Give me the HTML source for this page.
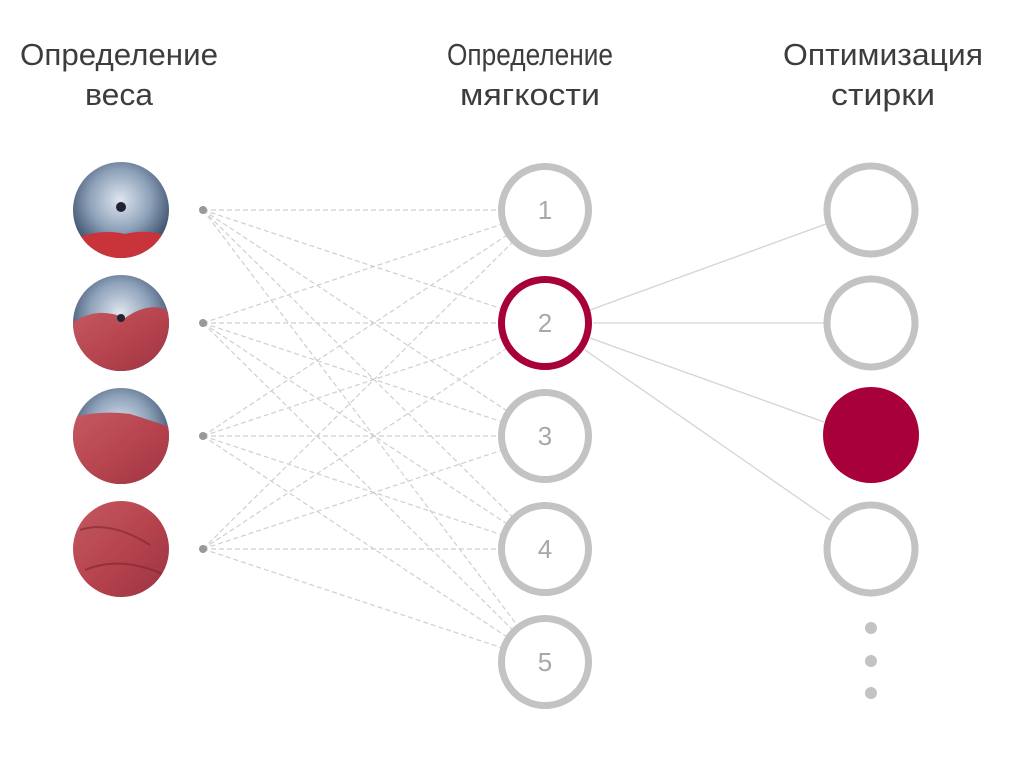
<!DOCTYPE html>
<html><head><meta charset="utf-8"><style>
html,body{margin:0;padding:0;background:#fff;width:1024px;height:770px;overflow:hidden}
svg{display:block}
text{font-family:"Liberation Sans",sans-serif}
</style></head><body>
<svg width="1024" height="770" viewBox="0 0 1024 770" xmlns="http://www.w3.org/2000/svg">
<defs>
<radialGradient id="metal" cx="50%" cy="40%" r="60%">
<stop offset="0" stop-color="#dfe6ee"/><stop offset="0.5" stop-color="#8fa3bb"/><stop offset="1" stop-color="#2c3e5c"/>
</radialGradient>
<linearGradient id="cloth" x1="0" y1="0" x2="1" y2="1">
<stop offset="0" stop-color="#c45a62"/><stop offset="0.5" stop-color="#b7444f"/><stop offset="1" stop-color="#9a3340"/>
</linearGradient>
<clipPath id="c1"><circle cx="121" cy="210" r="48"/></clipPath>
<clipPath id="c2"><circle cx="121" cy="323" r="48"/></clipPath>
<clipPath id="c3"><circle cx="121" cy="436" r="48"/></clipPath>
<clipPath id="c4"><circle cx="121" cy="549" r="48"/></clipPath>
</defs>
<g font-size="31" fill="#3d3d3d" text-anchor="middle">
<text x="119" y="65" textLength="198" lengthAdjust="spacingAndGlyphs">Определение</text>
<text x="119" y="105" textLength="68" lengthAdjust="spacingAndGlyphs">веса</text>
<text x="530" y="65" textLength="166" lengthAdjust="spacingAndGlyphs">Определение</text>
<text x="530" y="105" textLength="140" lengthAdjust="spacingAndGlyphs">мягкости</text>
<text x="883" y="65" textLength="200" lengthAdjust="spacingAndGlyphs">Оптимизация</text>
<text x="883" y="105" textLength="104" lengthAdjust="spacingAndGlyphs">стирки</text>
</g>
<g stroke="#cfcfcf" stroke-width="1.2" stroke-dasharray="5,3" fill="none">
<line x1="203" y1="210" x2="498" y2="210"/>
<line x1="203" y1="210" x2="500.4" y2="308.3"/>
<line x1="203" y1="210" x2="505.8" y2="410.1"/>
<line x1="203" y1="210" x2="511.6" y2="515.9"/>
<line x1="203" y1="210" x2="516.6" y2="624.5"/>
<line x1="203" y1="323" x2="500.4" y2="224.7"/>
<line x1="203" y1="323" x2="498" y2="323"/>
<line x1="203" y1="323" x2="500.4" y2="421.3"/>
<line x1="203" y1="323" x2="505.8" y2="523.1"/>
<line x1="203" y1="323" x2="511.6" y2="628.9"/>
<line x1="203" y1="436" x2="505.8" y2="235.9"/>
<line x1="203" y1="436" x2="500.4" y2="337.7"/>
<line x1="203" y1="436" x2="498" y2="436"/>
<line x1="203" y1="436" x2="500.4" y2="534.3"/>
<line x1="203" y1="436" x2="505.8" y2="636.1"/>
<line x1="203" y1="549" x2="511.6" y2="243.1"/>
<line x1="203" y1="549" x2="505.8" y2="348.9"/>
<line x1="203" y1="549" x2="500.4" y2="450.7"/>
<line x1="203" y1="549" x2="498" y2="549"/>
<line x1="203" y1="549" x2="500.4" y2="647.3"/>
</g>
<g stroke="#d4d4d4" stroke-width="1.3">
<line x1="590" y1="310" x2="826" y2="224"/>
<line x1="593" y1="323" x2="824" y2="323"/>
<line x1="590" y1="338" x2="824" y2="422"/>
<line x1="585" y1="350" x2="830" y2="520"/>
</g>
<g fill="#999"><circle cx="203" cy="210" r="4"/><circle cx="203" cy="323" r="4"/><circle cx="203" cy="436" r="4"/><circle cx="203" cy="549" r="4"/></g>
<g clip-path="url(#c1)"><rect x="70" y="160" width="100" height="100" fill="url(#metal)"/><path d="M70 240 Q100 228 125 234 Q150 228 172 238 V260 H70Z" fill="#c8343a"/><circle cx="121" cy="207" r="5" fill="#223"/></g>
<g clip-path="url(#c2)"><rect x="70" y="273" width="100" height="100" fill="url(#metal)"/><path d="M70 325 Q95 305 125 318 Q150 300 172 312 V375 H70Z" fill="url(#cloth)"/><circle cx="121" cy="318" r="4" fill="#223"/></g>
<g clip-path="url(#c3)"><rect x="70" y="386" width="100" height="100" fill="url(#metal)"/><path d="M70 418 Q100 410 130 414 Q150 420 172 428 V490 H70Z" fill="url(#cloth)"/></g>
<g clip-path="url(#c4)"><rect x="70" y="499" width="100" height="100" fill="url(#cloth)"/><path d="M80 530 Q110 520 150 545 M85 570 Q120 555 165 575" stroke="#7d2430" stroke-width="2" fill="none" opacity="0.6"/></g>
<g fill="#fff" stroke="#c3c3c3" stroke-width="7">
<circle cx="545" cy="210" r="43.5"/>
<circle cx="545" cy="436" r="43.5"/>
<circle cx="545" cy="549" r="43.5"/>
<circle cx="545" cy="662" r="43.5"/>
<circle cx="545" cy="323" r="43.5" stroke="#a8003a"/>
<circle cx="871" cy="210" r="44"/>
<circle cx="871" cy="323" r="44"/>
<circle cx="871" cy="549" r="44"/>
</g>
<circle cx="871" cy="435" r="48" fill="#a8003a"/>
<g fill="#c3c3c3"><circle cx="871" cy="628" r="6"/><circle cx="871" cy="661" r="6"/><circle cx="871" cy="693" r="6"/></g>
<g font-size="26" fill="#a8a8a8" text-anchor="middle">
<text x="545" y="219">1</text><text x="545" y="332">2</text><text x="545" y="445">3</text><text x="545" y="558">4</text><text x="545" y="671">5</text>
</g>
</svg>
</body></html>
